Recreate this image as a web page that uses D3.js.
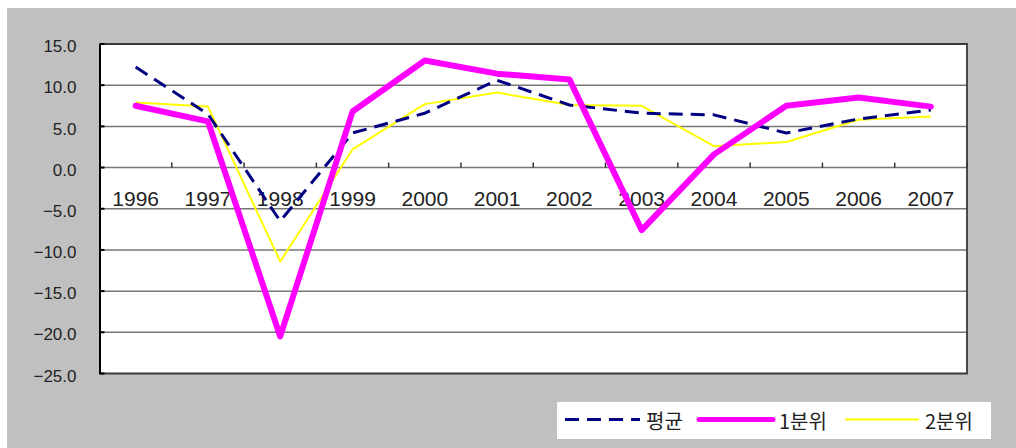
<!DOCTYPE html>
<html>
<head>
<meta charset="utf-8">
<script src="https://cdn.jsdelivr.net/npm/d3@7"></script>
<style>
  html, body { margin: 0; padding: 0; background: #fff; }
  svg { display: block; }
  text { font-family: "Liberation Sans", Arial, "Noto Sans CJK KR", sans-serif; fill: #222; }
</style>
</head>
<body>
<svg id="chart" width="1016" height="448"></svg>
<script>
// Annual growth rates by group, 1996-2007
const years = ["1996","1997","1998","1999","2000","2001","2002","2003","2004","2005","2006","2007"];
const avgValues = [12.2, 6.5, -6.5, 4.2, 6.6, 10.6, 7.6, 6.6, 6.4, 4.2, 5.9, 7.0];
const q1Values  = [7.5, 5.6, -20.5, 6.8, 13.0, 11.4, 10.7, -7.6, 1.6, 7.5, 8.5, 7.4];
const q2Values  = [7.9, 7.4, -11.4, 2.2, 7.7, 9.1, 7.6, 7.5, 2.6, 3.1, 5.8, 6.2];
const seriesNames = ["평균", "1분위", "2분위"];
const yTicks = [15, 10, 5, 0, -5, -10, -15, -20, -25];

const svg = d3.select("#chart");

// Outer chart frame
svg.append("rect").attr("x", 7).attr("y", 8).attr("width", 1009).attr("height", 440).attr("fill", "#c0c0c0");

const plot = { left: 99.5, right: 967, top: 44, bottom: 373.5 };

const x = d3.scaleBand().domain(years).range([plot.left, plot.right]).padding(0);
const y = d3.scaleLinear().domain([-25, 15]).range([plot.bottom, plot.top]);

// Plot background
svg.append("rect")
  .attr("x", plot.left).attr("y", plot.top)
  .attr("width", plot.right - plot.left).attr("height", plot.bottom - plot.top)
  .attr("fill", "#fff");

// Horizontal gridlines
svg.append("g").selectAll("line")
  .data(yTicks.filter(v => v !== 15 && v !== -25))
  .join("line")
  .attr("x1", plot.left).attr("x2", plot.right)
  .attr("y1", d => y(d)).attr("y2", d => y(d))
  .attr("stroke", "#777").attr("stroke-width", 1.5);

// Plot border (top, right, bottom)
svg.append("path")
  .attr("d", `M${plot.left},${plot.top}H${plot.right}V${plot.bottom}H${plot.left}`)
  .attr("fill", "none").attr("stroke", "#3a3a3a").attr("stroke-width", 1.8);

// Value axis
const yAxis = d3.axisLeft(y)
  .tickValues(yTicks)
  .tickSize(0)
  .tickPadding(23)
  .tickFormat(d => d3.format(".1f")(d).replace("-", "\u2212"));
const gy = svg.append("g").attr("transform", `translate(${plot.left},0)`).call(yAxis);
gy.select(".domain").attr("stroke", "#000").attr("stroke-width", 2);
gy.selectAll("text").attr("font-size", 17).attr("dy", "0.45em").attr("fill", "#222")
  .style("font-family", "'Liberation Sans', Arial, sans-serif");
// inward tick marks on the value axis
svg.append("g").selectAll("line").data(yTicks).join("line")
  .attr("x1", plot.left).attr("x2", plot.left + 5)
  .attr("y1", d => y(d)).attr("y2", d => y(d))
  .attr("stroke", "#000").attr("stroke-width", 2);

// Category axis along zero
const y0 = y(0);
const boundaries = d3.range(years.length + 1).map(i => plot.left + i * x.step());
svg.append("g").selectAll("line").data(boundaries.slice(1)).join("line")
  .attr("x1", d => d).attr("x2", d => d)
  .attr("y1", y0).attr("y2", y0 - 5)
  .attr("stroke", "#333").attr("stroke-width", 1.5);
svg.append("g").selectAll("text").data(years).join("text")
  .attr("x", d => x(d) + x.bandwidth() / 2)
  .attr("y", y0 + 38.8)
  .attr("text-anchor", "middle")
  .attr("font-size", 21)
  .text(d => d);

// Series lines
const line = d3.line()
  .x((d, i) => x(years[i]) + x.bandwidth() / 2)
  .y(d => y(d));

const seriesStyles = [
  { values: avgValues, color: "#000080", width: 3, dash: "14,8", cap: "butt" },
  { values: q1Values,  color: "#ff00ff", width: 6, dash: null, cap: "round" },
  { values: q2Values,  color: "#ffff00", width: 2, dash: null, cap: "butt" }
];
// draw order: 2분위 under, then 평균, then 1분위 on top
[2, 0, 1].forEach(k => {
  const s = seriesStyles[k];
  svg.append("path")
    .datum(s.values)
    .attr("d", line)
    .attr("fill", "none")
    .attr("stroke", s.color)
    .attr("stroke-width", s.width)
    .attr("stroke-linejoin", "round")
    .attr("stroke-linecap", s.cap)
    .attr("stroke-dasharray", s.dash);
});

// Legend
const legend = svg.append("g");
legend.append("rect").attr("x", 557).attr("y", 402).attr("width", 434).attr("height", 37).attr("fill", "#fff");
const legendItems = [
  { x1: 565, x2: 640, tx: 646 },
  { x1: 699, x2: 773, tx: 779 },
  { x1: 845, x2: 919, tx: 925 }
];
legendItems.forEach((it, k) => {
  const s = seriesStyles[k];
  legend.append("line")
    .attr("x1", it.x1).attr("x2", it.x2).attr("y1", 419.5).attr("y2", 419.5)
    .attr("stroke", s.color)
    .attr("stroke-width", k === 1 ? 5 : s.width)
    .attr("stroke-linecap", s.cap)
    .attr("stroke-dasharray", s.dash);
  legend.append("text")
    .attr("x", it.tx).attr("y", 428.5)
    .attr("font-size", 20)
    .style("font-family", "'Noto Sans CJK KR', sans-serif")
    .text(seriesNames[k]);
});
</script>
</body>
</html>
